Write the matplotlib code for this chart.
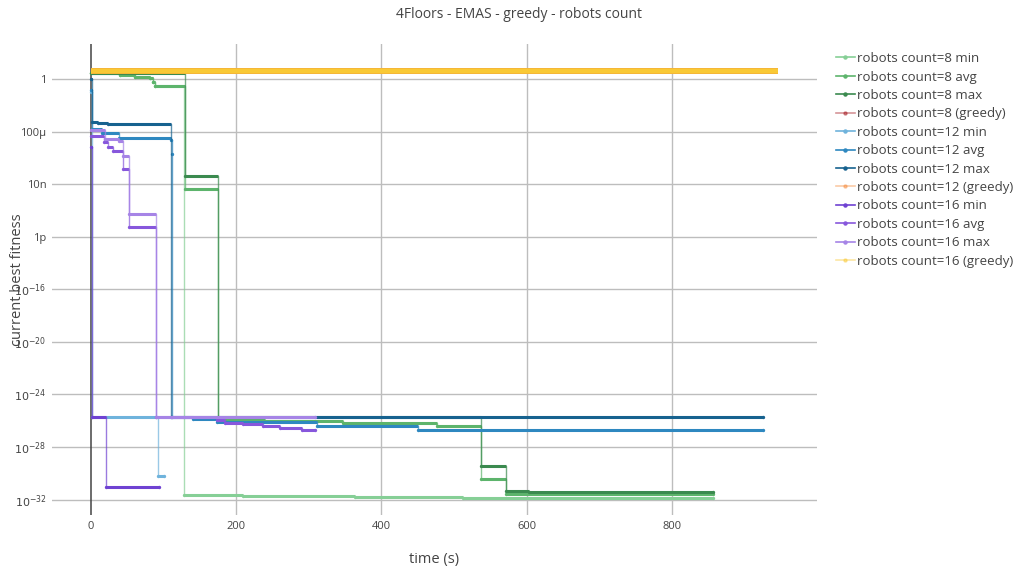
import matplotlib.pyplot as plt
from matplotlib.lines import Line2D

plt.rcParams['font.family'] = ['Open Sans', 'DejaVu Sans']

# ---------------------------------------------------------------
# data (time in s, best fitness)
# ---------------------------------------------------------------
t_greedy = [0, 946]
fit_greedy = [4.5, 4.5]

t_8_min = [0, 40, 61, 81, 85, 88, 128, 209, 364, 512, 857]
fit_8_min = [2.8, 2.0, 1.4, 1.2, 0.58, 0.29, 2.2e-32, 1.8e-32, 1.5e-32, 1.3e-32, 1.3e-32]
t_8_avg = [0, 40, 61, 81, 85, 88, 130, 175, 240, 347, 477, 537, 572, 857]
fit_8_avg = [3.0, 2.1, 1.5, 1.26, 0.62, 0.31, 4.4e-9, 1.1e-26, 9.5e-27, 6.6e-27, 4e-27,
             3.6e-31, 2.6e-32, 2.6e-32]
t_8_max = [0, 130, 175, 537, 572, 603, 857]
fit_8_max = [3.0, 4.3e-8, 1.9e-26, 3.5e-30, 4.4e-32, 3.7e-32, 3.7e-32]

t_12_min = [0, 1, 92, 100]
fit_12_min = [0.1, 1.9e-26, 5.7e-31, 5.7e-31]
t_12_avg = [0, 1, 15, 39, 110, 111, 112, 140, 174, 311, 450, 926]
fit_12_avg = [0.15, 1.6e-4, 8e-5, 3.4e-5, 2.4e-5, 2e-6, 1.9e-26, 1.3e-26, 8e-27, 4e-27,
              1.9e-27, 1.9e-27]
t_12_max = [0, 1, 10, 23, 110, 926]
fit_12_max = [1.0, 5.6e-4, 4.7e-4, 4.0e-4, 1.9e-26, 1.9e-26]

t_16_min = [0, 1, 21, 94]
fit_16_min = [7e-6, 1.9e-26, 8.9e-32, 8.9e-32]
t_16_avg = [0, 18, 23, 30, 44, 52, 90, 174, 185, 209, 237, 260, 291, 309]
fit_16_avg = [4.8e-5, 1.7e-5, 7e-6, 3.5e-6, 1.5e-7, 5.6e-12, 1.9e-26, 1.1e-26, 6.6e-27,
              5.6e-27, 4e-27, 2.8e-27, 1.9e-27, 1.9e-27]
t_16_max = [0, 19, 39, 44, 52, 90, 309]
fit_16_max = [1.4e-4, 2.8e-5, 2e-5, 1.4e-6, 5.5e-11, 1.9e-26, 1.9e-26]

series = [
    ("robots count=8 min", t_8_min, fit_8_min, "#86cf96"),
    ("robots count=8 avg", t_8_avg, fit_8_avg, "#5db46c"),
    ("robots count=8 max", t_8_max, fit_8_max, "#3b8a4f"),
    ("robots count=8 (greedy)", t_greedy, fit_greedy, "#a3141c"),
    ("robots count=12 min", t_12_min, fit_12_min, "#6fb3dc"),
    ("robots count=12 avg", t_12_avg, fit_12_avg, "#2e88c0"),
    ("robots count=12 max", t_12_max, fit_12_max, "#17628f"),
    ("robots count=12 (greedy)", t_greedy, fit_greedy, "#f58a3c"),
    ("robots count=16 min", t_16_min, fit_16_min, "#6f42d2"),
    ("robots count=16 avg", t_16_avg, fit_16_avg, "#8757dc"),
    ("robots count=16 max", t_16_max, fit_16_max, "#a684e6"),
    ("robots count=16 (greedy)", t_greedy, fit_greedy, "#f9c935"),
]

ytick_vals = [1e-32, 1e-28, 1e-24, 1e-20, 1e-16, 1e-12, 1e-8, 1e-4, 1]
ytick_labels = ["$10^{-32}$", "$10^{-28}$", "$10^{-24}$", "$10^{-20}$", "$10^{-16}$",
                "1p", "10n", "100µ", "1"]
xtick_vals = [0, 200, 400, 600, 800]

# ---------------------------------------------------------------
fig = plt.figure(figsize=(10.27, 5.71), dpi=100)
ax = fig.add_axes([0.0506, 0.098, 0.745, 0.825])

for ypos in ytick_vals:
    ax.axhline(ypos, color="#bdbdbd", lw=1, zorder=0)
for xpos in xtick_vals[1:]:
    ax.axvline(xpos, color="#bdbdbd", lw=1, zorder=0)
ax.axvline(0, color="#444444", lw=1.1, zorder=0.5)

handles = []
for label, t, f, col in series:
    greedy = "greedy" in label
    if greedy:
        ax.plot(t, f, color=col, lw=4, solid_capstyle="butt", zorder=3)
    else:
        ax.step(t, f, where="post", color=col, lw=1, alpha=0.7, zorder=2)
        ax.hlines(f[:-1], t[:-1], t[1:], color=col, lw=2.2, zorder=2)
        ax.plot(t, f, "o", color=col, ms=1.4, zorder=2)
    handles.append(Line2D([], [], color=col, lw=1.2, alpha=0.45 if greedy else 1,
                          marker="o", ms=2.2, markerfacecolor=col, markeredgecolor=col))

ax.set_yscale("log")
ax.set_ylim(10 ** -33.18, 10 ** 2.69)
ax.set_xlim(-53.7, 1000)
ax.set_yticks(ytick_vals)
ax.set_yticklabels(ytick_labels)
ax.minorticks_off()
ax.set_xticks(xtick_vals)
ax.tick_params(length=0, labelsize=8, colors="#444444", pad=4)
for s in ax.spines.values():
    s.set_visible(False)

ax.set_xlabel("time (s)", fontsize=10.5, color="#444444", labelpad=15)
ax.set_ylabel("current best fitness", fontsize=10.5, color="#444444")
ax.yaxis.set_label_coords(-0.035, 0.5)
fig.text(0.505, 0.975, "4Floors - EMAS - greedy - robots count", ha="center", va="center",
         fontsize=10, color="#444444")

fig.legend(handles, [s[0] for s in series], loc="upper left",
           bbox_to_anchor=(0.809, 0.918), frameon=False, fontsize=9.5,
           handlelength=1.4, handletextpad=0.2, labelspacing=0.41,
           labelcolor="#444444", borderaxespad=0)

fig.savefig("out.png", dpi=100)
